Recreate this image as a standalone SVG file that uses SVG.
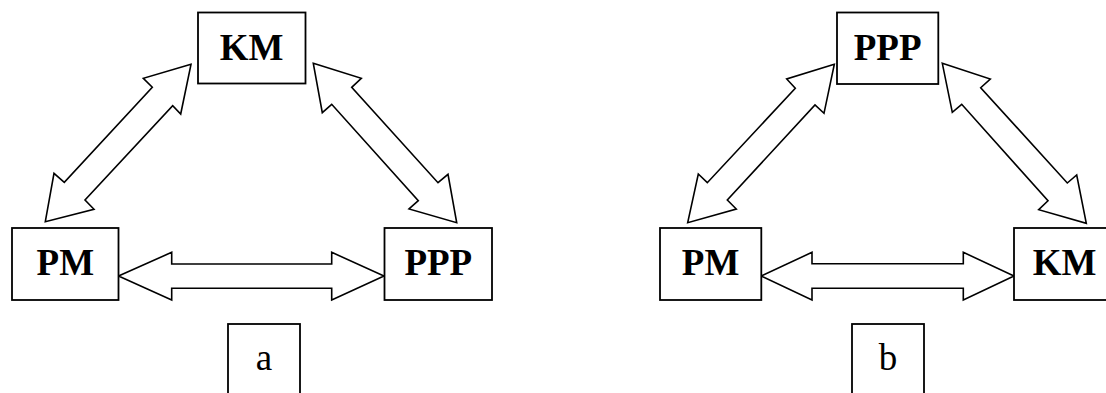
<svg xmlns="http://www.w3.org/2000/svg" width="1106" height="393" viewBox="0 0 1106 393">
<style>
.box{fill:#fff;stroke:#000;stroke-width:1.8}
.arr{fill:#fff;stroke:#000;stroke-width:1.6;stroke-linejoin:miter}
.lbl{font-family:"Liberation Serif","Times New Roman",serif;font-weight:bold;font-size:37px;text-anchor:middle;fill:#000}
.cap{font-family:"Liberation Serif","Times New Roman",serif;font-size:37px;text-anchor:middle;fill:#000}
</style>
<rect width="1106" height="393" fill="#fff"/>
<g id="connectors">
<polygon class="arr" points="191,64.3 143.3,78.3 152.3,87.3 64.3,182.3 54,173.3 45.3,221.7 94,209.3 85,200 172.7,105.7 180.7,114"/>
<polygon class="arr" points="313.3,63.3 361.3,78.3 351.7,87.3 438,182.7 448,174.3 456.7,222.7 409,209 418.3,200.7 331.7,104.3 322.3,112.7"/>
<polygon class="arr" points="118.5,276 171.7,252.3 171.7,264 331.7,264 331.7,252.3 384,276 331.7,300 331.7,288.3 171.7,288.3 171.7,300"/>
<polygon class="arr" points="834.3,64.3 786.7,79 795.3,88.3 707.3,182.7 698.3,174 687.7,222.7 736.3,209 727.3,200 815,105 824,113.3"/>
<polygon class="arr" points="942.3,63.3 990.3,79 980.7,87.7 1067.3,183 1076.7,175 1086.3,223.3 1038.7,209.7 1048,200.7 961.7,104.3 952.3,112.3"/>
<polygon class="arr" points="761.3,276 812,252.3 812,263.7 963.3,263.7 963.3,252.3 1014,276 963.3,300 963.3,288.3 812,288.3 812,300"/>
</g>
<g id="a-KM"><rect class="box" x="198" y="12.5" width="107.5" height="71"/><text class="lbl" x="251.7" y="59.5">KM</text></g>
<g id="a-PM"><rect class="box" x="12" y="228" width="106.5" height="72"/><text class="lbl" x="65.3" y="275">PM</text></g>
<g id="a-PPP"><rect class="box" x="384.5" y="228" width="107.5" height="72"/><text class="lbl" x="438.3" y="275">PPP</text></g>
<g id="a-label"><rect class="box" x="228" y="324" width="72" height="80"/><text class="cap" x="264" y="370">a</text></g>
<g id="b-PPP"><rect class="box" x="837" y="12.5" width="101.3" height="71.5"/><text class="lbl" x="887.6" y="59.5">PPP</text></g>
<g id="b-PM"><rect class="box" x="660" y="228" width="101.3" height="72"/><text class="lbl" x="710.6" y="275">PM</text></g>
<g id="b-KM"><rect class="box" x="1014" y="228" width="101" height="72"/><text class="lbl" x="1064.5" y="275">KM</text></g>
<g id="b-label"><rect class="box" x="852" y="324" width="72" height="80"/><text class="cap" x="888" y="370">b</text></g>
</svg>
